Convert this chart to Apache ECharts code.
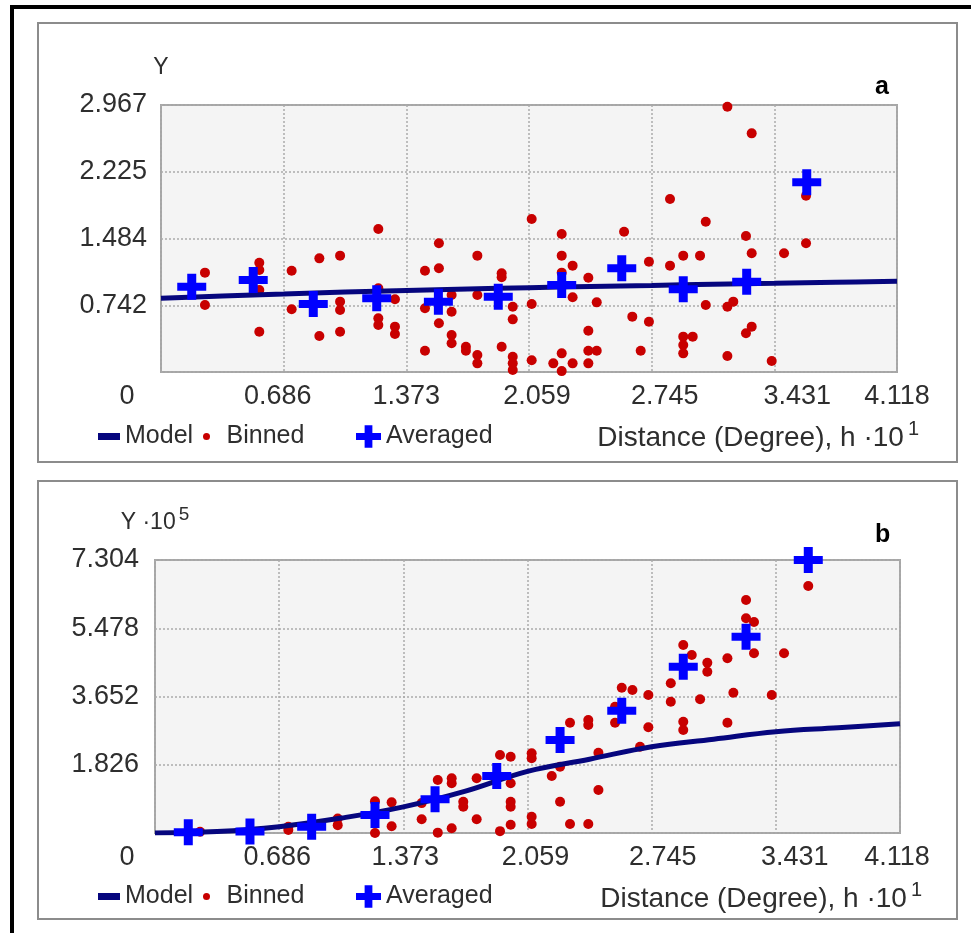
<!DOCTYPE html>
<html><head><meta charset="utf-8">
<script src="https://cdn.jsdelivr.net/npm/echarts@6/dist/echarts.min.js"></script>
<style>
html,body{margin:0;padding:0;background:#fff;}
#chart{position:absolute;left:0;top:0;width:971px;height:933px;}
</style></head><body>
<div id="chart"></div>
<script>
// ---------- DATA ----------
const xTicks = ['0', '0.686', '1.373', '2.059', '2.745', '3.431', '4.118'];
const yTicksA = ['', '0.742', '1.484', '2.225', '2.967'];
const yTicksB = ['', '1.826', '3.652', '5.478', '7.304'];
const xMax = 4.118, yMaxA = 2.967, yMaxB = 7.304;

// Panel a
const modelAX = [0, 0.343, 0.686, 1.030, 1.373, 1.716, 2.059, 2.402, 2.745, 3.088, 3.431, 3.775, 4.118];
const modelAY = [0.820, 0.845, 0.866, 0.888, 0.906, 0.922, 0.937, 0.950, 0.962, 0.975, 0.986, 0.998, 1.008];
const avgAX = [0.172, 0.516, 0.852, 1.207, 1.552, 1.887, 2.242, 2.578, 2.922, 3.277, 3.613];
const avgAY = [0.948, 1.022, 0.756, 0.819, 0.781, 0.837, 0.967, 1.152, 0.919, 1.004, 2.108];
const binAX = [0.246,0.246,0.550,0.550,0.550,0.550,0.731,0.731,0.886,0.886,1.002,1.002,1.002,1.002,
  1.216,1.216,1.216,1.216,1.309,1.309,1.309,1.477,1.477,1.477,1.555,1.555,1.555,1.626,1.626,1.626,1.626,
  1.706,1.706,1.770,1.770,1.770,1.770,1.906,1.906,1.906,1.968,1.968,1.968,1.968,1.968,2.074,2.074,2.074,
  2.195,2.242,2.242,2.242,2.242,2.242,2.303,2.303,2.303,2.391,2.391,2.391,2.391,2.438,2.438,2.591,2.637,
  2.684,2.730,2.730,2.848,2.848,2.922,2.922,2.922,2.922,2.975,3.016,3.048,3.048,3.169,3.169,3.202,3.169,
  3.273,3.305,3.305,3.273,3.305,3.417,3.486,3.609,3.609];
const binAY = [1.104,0.745,1.215,1.133,0.911,0.448,1.126,0.697,1.263,0.400,1.293,0.782,0.689,0.448,
  1.589,0.930,0.596,0.522,0.808,0.504,0.422,1.126,0.708,0.237,1.430,1.152,0.541,0.856,0.670,0.411,0.319,
  0.281,0.237,1.293,0.856,0.189,0.096,1.096,1.052,0.281,0.726,0.585,0.170,0.096,0.022,1.700,0.756,0.130,
  0.096,1.533,1.293,1.104,0.207,0.010,1.182,0.830,0.096,1.048,0.459,0.237,0.096,0.774,0.237,1.559,0.615,
  0.237,1.226,0.559,1.922,1.182,1.293,0.393,0.300,0.207,0.393,1.293,1.670,0.745,2.948,0.726,0.782,0.178,
  1.511,1.319,2.652,0.430,0.504,0.122,1.319,1.959,1.430];

// Panel b
const modelBX = [0, 0.343, 0.686, 1.030, 1.373, 1.716, 2.059, 2.402, 2.745, 3.088, 3.431, 3.775, 4.118];
const modelBY = [0, 0.04, 0.17, 0.40, 0.70, 1.12, 1.65, 1.975, 2.31, 2.51, 2.71, 2.815, 2.92];
const avgBX = [0.184, 0.525, 0.866, 1.216, 1.548, 1.889, 2.239, 2.580, 2.920, 3.267, 3.611];
const avgBY = [0.02, 0.04, 0.17, 0.48, 0.90, 1.525, 2.488, 3.272, 4.450, 5.252, 7.304];
const binBX = [0.249,0.737,0.737,1.010,1.010,1.216,1.216,1.308,1.308,1.474,1.474,1.563,1.563,1.640,1.640,1.640,
  1.704,1.704,1.778,1.778,1.907,1.907,1.966,1.966,1.966,1.966,1.966,2.082,2.082,2.082,2.082,2.193,2.239,2.239,
  2.294,2.294,2.395,2.395,2.395,2.451,2.451,2.543,2.543,2.580,2.639,2.681,2.727,2.727,2.851,2.851,2.920,2.920,
  2.920,2.967,3.013,3.053,3.053,3.164,3.164,3.197,3.267,3.267,3.311,3.311,3.409,3.477,3.611];
const binBY = [0.035,0.169,0.080,0.390,0.210,0.850,0.000,0.820,0.180,0.800,0.370,1.418,0.010,1.463,1.330,0.126,
  0.838,0.704,1.463,0.370,2.087,0.050,2.042,1.330,0.838,0.704,0.220,2.132,1.999,0.437,0.240,1.525,0.838,1.774,
  2.951,0.240,3.023,2.890,0.240,2.148,1.150,3.379,2.951,3.888,3.826,2.309,3.692,2.828,4.005,3.513,5.030,2.978,
  2.756,4.762,3.577,4.556,4.316,4.674,2.951,3.754,6.234,5.744,5.645,4.808,3.692,4.808,6.608];

// ---------- STYLE ----------
const FONT = "'Liberation Sans', Arial, sans-serif";
const TXT = '#2e2e2e';
const FS = 27;
const PLUS = 'path://M10,0h9v9h10v8h-10v9h-9v-9h-10v-8h10z';
const zip = (xs, ys) => xs.map((x, i) => [x, ys[i]]);

function xLabelRich(shifts) {
  const rich = {};
  shifts.forEach((d, i) => {
    rich['l' + i] = {fontFamily: FONT, fontSize: FS, color: TXT,
      padding: d >= 0 ? [0, 0, 0, 2 * d] : [0, -2 * d, 0, 0]};
  });
  return rich;
}
const shiftA = [-34, -6, 0, 8, 13, 23, 0];
const shiftB = [-28, -2, 2, 8, 11, 19, -3];

function xAxis(gridIndex, shifts) {
  return {
    type: 'value', gridIndex, min: 0, max: xMax, interval: xMax / 6,
    axisLine: {show: false}, axisTick: {show: false},
    splitLine: {show: true, lineStyle: {color: '#aaa', type: [2, 2], width: 1.5}},
    axisLabel: {margin: 11, showMaxLabel: true, showMinLabel: true,
      formatter: (v, i) => xTicks[i] !== undefined ? '{l' + i + '|' + xTicks[i] + '}' : '',
      rich: xLabelRich(shifts)},
    name: '{n|Distance (Degree), h ·10}{s|1}', nameLocation: 'end', nameGap: 22,
    nameTextStyle: {align: 'right', verticalAlign: 'top', padding: [47, 0, 0, 0],
      rich: {n: {fontFamily: FONT, fontSize: 28, color: TXT, lineHeight: 33, verticalAlign: 'bottom'},
             s: {fontFamily: FONT, fontSize: 20, color: TXT, lineHeight: 20, verticalAlign: 'top', padding: [0, 0, 0, 4]}}}
  };
}
function yAxis(gridIndex, max, ticks, name, margin) {
  return {
    type: 'value', gridIndex, min: 0, max, interval: max / 4,
    axisLine: {show: false}, axisTick: {show: false},
    splitLine: {show: true, lineStyle: {color: '#aaa', type: [2, 2], width: 1.5}},
    axisLabel: {margin, fontFamily: FONT, fontSize: FS, color: TXT,
      formatter: (v, i) => ticks[i] !== undefined ? ticks[i] : ''},
    name, nameLocation: 'end', nameGap: 26,
    nameTextStyle: {rich: {t: {fontFamily: FONT, fontSize: 23, color: TXT, lineHeight: 29, verticalAlign: 'bottom'},
                           s: {fontFamily: FONT, fontSize: 19, color: TXT, lineHeight: 19, verticalAlign: 'top', padding: [0, 0, 0, 3]}}}
  };
}

function legends(cy) {
  const top = cy - 13;
  const base = {orient: 'horizontal', padding: 0, selectedMode: false,
    textStyle: {fontFamily: FONT, fontSize: 25, color: TXT}};
  return [
    Object.assign({}, base, {left: 98, top: top, itemWidth: 22, itemHeight: 7,
      data: [{name: 'Model', icon: 'rect'}]}),
    Object.assign({}, base, {left: 203, top: top, itemWidth: 30, itemHeight: 7,
      data: [{name: 'Binned', icon: 'circle'}]}),
    Object.assign({}, base, {left: 356, top: top, itemWidth: 25, itemHeight: 23,
      data: [{name: 'Averaged', icon: PLUS}]})
  ];
}

const gridStyle = {show: true, backgroundColor: '#f4f4f4', borderColor: '#a6a6a6', borderWidth: 2};

function seriesFor(idx, mX, mY, bX, bY, aX, aY) {
  return [
    {name: 'Binned', type: 'scatter', xAxisIndex: idx, yAxisIndex: idx, data: zip(bX, bY),
      symbol: 'circle', symbolSize: 10, itemStyle: {color: '#c80000', opacity: 1}, z: 2, silent: true},
    {name: 'Model', type: 'line', xAxisIndex: idx, yAxisIndex: idx, data: zip(mX, mY),
      smooth: 0.4, showSymbol: false, symbol: 'none', lineStyle: {color: '#06067e', width: 5},
      itemStyle: {color: '#06067e'}, z: 3, silent: true},
    {name: 'Averaged', type: 'scatter', xAxisIndex: idx, yAxisIndex: idx, data: zip(aX, aY),
      symbol: PLUS, symbolSize: [29, 26], itemStyle: {color: '#0000ff', opacity: 1}, z: 4, silent: true}
  ];
}

const option = {
  animation: false,
  backgroundColor: '#fff',
  title: [
    {text: 'a', left: 870, top: 70, textStyle: {fontFamily: FONT, fontSize: 25, fontWeight: 'bold', color: '#000'}},
    {text: 'b', left: 870, top: 518, textStyle: {fontFamily: FONT, fontSize: 25, fontWeight: 'bold', color: '#000'}}
  ],
  grid: [
    Object.assign({left: 161, top: 105, width: 736, height: 267}, gridStyle),
    Object.assign({left: 155, top: 560, width: 745, height: 273}, gridStyle)
  ],
  xAxis: [xAxis(0, shiftA), xAxis(1, shiftB)],
  yAxis: [yAxis(0, yMaxA, yTicksA, '{t|Y}', 14), yAxis(1, yMaxB, yTicksB, '{t|Y ·10}{s|5}', 16)],
  legend: legends(437).concat(legends(897)),
  series: seriesFor(0, modelAX, modelAY, binAX, binAY, avgAX, avgAY)
    .concat(seriesFor(1, modelBX, modelBY, binBX, binBY, avgBX, avgBY)),
  graphic: [
    {type: 'rect', shape: {x: 10, y: 5, width: 961, height: 4}, style: {fill: '#000'}, silent: true},
    {type: 'rect', shape: {x: 10, y: 5, width: 4, height: 928}, style: {fill: '#000'}, silent: true},
    {type: 'rect', shape: {x: 38, y: 23, width: 919, height: 439}, style: {fill: 'none', stroke: '#8c8c8c', lineWidth: 2}, silent: true},
    {type: 'rect', shape: {x: 38, y: 481, width: 919, height: 438}, style: {fill: 'none', stroke: '#8c8c8c', lineWidth: 2}, silent: true}
  ]
};
const chart = echarts.init(document.getElementById('chart'));
chart.setOption(option);
</script>
</body></html>
